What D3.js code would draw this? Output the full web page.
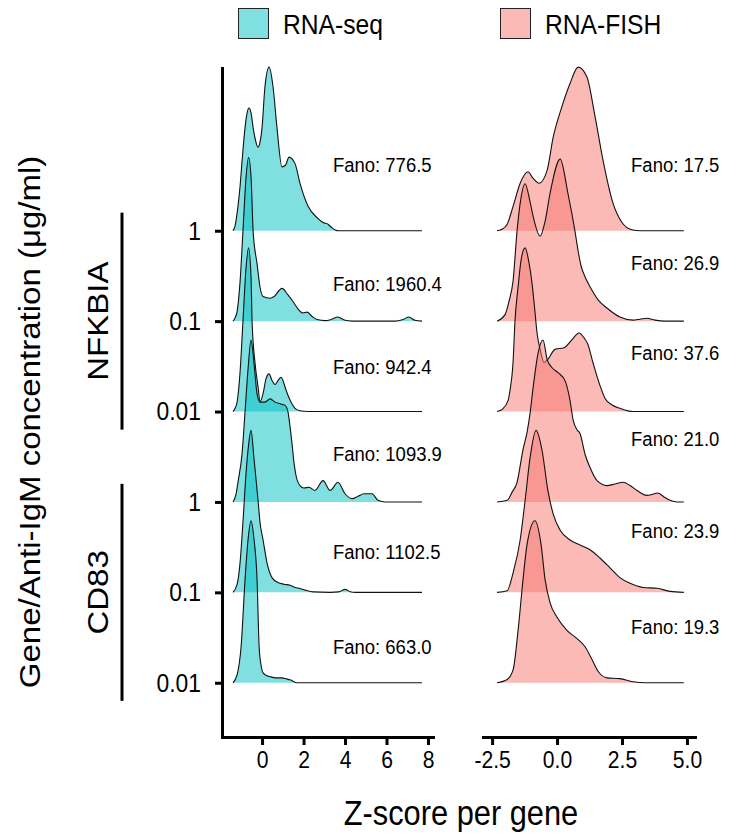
<!DOCTYPE html>
<html><head><meta charset="utf-8">
<script src="https://cdn.jsdelivr.net/npm/d3@7"></script>
<style>body{margin:0;background:#fff;} svg{display:block;font-family:"Liberation Sans",Arial,sans-serif;}</style>
</head><body><svg id="chart" width="736" height="837"></svg>
<script>
// ---------------- DATA ----------------
const rowLabels = ["1","0.1","0.01","1","0.1","0.01"];   // top -> bottom
const rowIndex  = [5,4,3,2,1,0];
const genes = ["NFKBIA","CD83"];
const geneRows = [[5,4,3],[2,1,0]];
const seqTicks = [0,2,4,6,8];
const fishTicks = [-2.5,0,2.5,5];
const seqFano  = ["776.5","1960.4","942.4","1093.9","1102.5","663.0"];
const fishFano = ["17.5","26.9","37.6","21.0","23.9","19.3"];
const seqFanoRow  = [5.73,4.42,3.50,2.54,1.45,0.40];
const fishFanoRow = [5.73,4.65,3.65,2.70,1.69,0.62];

// density curves, [z-score, scaled density]
const seq_NFKBIA_1 = [[-1.40,0],[-1.30,0.03],[-1.16,0.15],[-1.06,0.27],[-0.96,0.43],[-0.82,0.63],[-0.72,0.72],[-0.63,0.75],[-0.53,0.72],[-0.43,0.63],[-0.29,0.54],[-0.19,0.51],[-0.10,0.54],[0.00,0.63],[0.14,0.88],[0.34,1.00],[0.53,0.88],[0.72,0.63],[0.96,0.39],[1.13,0.40],[1.30,0.45],[1.59,0.41],[1.83,0.29],[2.22,0.15],[2.65,0.08],[2.94,0.05],[3.18,0.04],[3.35,0.02],[3.52,0.005],[3.70,0],[7.71,0]];
const seq_NFKBIA_01 = [[-1.40,0],[-1.30,0.02],[-1.20,0.06],[-1.06,0.24],[-0.92,0.55],[-0.77,0.88],[-0.65,1.00],[-0.53,0.88],[-0.43,0.55],[-0.24,0.35],[-0.10,0.21],[0.05,0.15],[0.39,0.14],[0.58,0.15],[0.96,0.20],[1.25,0.16],[1.49,0.12],[1.83,0.06],[1.97,0.05],[2.17,0.055],[2.40,0.03],[2.65,0.01],[3.04,0.003],[3.33,0.01],[3.66,0.025],[4.00,0.005],[4.34,0],[6.41,0],[6.80,0.01],[7.08,0.025],[7.37,0.005],[7.71,0]];
const seq_NFKBIA_001 = [[-1.40,0],[-1.30,0.02],[-1.20,0.06],[-1.06,0.24],[-0.92,0.55],[-0.77,0.88],[-0.65,1.00],[-0.53,0.82],[-0.48,0.55],[-0.34,0.30],[-0.19,0.15],[-0.10,0.06],[0.05,0.11],[0.19,0.20],[0.34,0.23],[0.48,0.19],[0.63,0.165],[0.77,0.19],[0.92,0.21],[1.06,0.17],[1.16,0.13],[1.35,0.07],[1.59,0.02],[1.83,0.005],[2.22,0],[7.71,0]];
const seq_CD83_1 = [[-1.40,0],[-1.25,0.05],[-1.16,0.12],[-0.96,0.30],[-0.82,0.55],[-0.67,0.82],[-0.53,0.99],[-0.39,0.85],[-0.24,0.66],[-0.10,0.61],[0.14,0.61],[0.39,0.63],[0.63,0.61],[0.87,0.60],[1.11,0.59],[1.25,0.55],[1.35,0.46],[1.45,0.35],[1.54,0.24],[1.64,0.16],[1.83,0.10],[2.02,0.085],[2.27,0.09],[2.55,0.07],[2.94,0.13],[3.28,0.07],[3.66,0.12],[4.00,0.05],[4.34,0.02],[4.63,0.035],[4.92,0.05],[5.30,0.05],[5.59,0.01],[5.93,0],[7.71,0]];
const seq_CD83_01 = [[-1.40,0],[-1.20,0.05],[-1.06,0.18],[-0.92,0.43],[-0.77,0.73],[-0.65,0.90],[-0.53,0.99],[-0.39,0.82],[-0.19,0.56],[-0.10,0.43],[0.05,0.32],[0.24,0.18],[0.48,0.09],[0.77,0.06],[1.06,0.05],[1.35,0.043],[1.59,0.03],[1.83,0.024],[2.12,0.012],[2.46,0.003],[3.28,0],[3.70,0.003],[4.00,0.018],[4.25,0.004],[4.50,0],[7.71,0]];
const seq_CD83_001 = [[-1.40,0],[-1.20,0.05],[-1.01,0.22],[-0.82,0.63],[-0.67,0.88],[-0.53,0.99],[-0.39,0.88],[-0.24,0.63],[-0.14,0.22],[-0.05,0.11],[0.05,0.06],[0.24,0.043],[0.39,0.037],[0.67,0.03],[0.96,0.03],[1.16,0.024],[1.35,0.018],[1.69,0],[7.71,0]];

const fish_NFKBIA_1 = [[-2.31,0],[-2.10,0.01],[-1.92,0.04],[-1.69,0.15],[-1.42,0.29],[-1.12,0.36],[-0.92,0.32],[-0.69,0.29],[-0.38,0.37],[-0.15,0.57],[0.19,0.76],[0.50,0.90],[0.81,1.00],[1.15,0.94],[1.46,0.70],[1.77,0.43],[2.15,0.17],[2.50,0.05],[2.88,0.006],[3.19,0],[4.88,0]];
const fish_NFKBIA_01 = [[-2.31,0],[-2.00,0.04],[-1.85,0.12],[-1.69,0.25],[-1.54,0.55],[-1.42,0.72],[-1.23,0.84],[-1.04,0.73],[-0.92,0.64],[-0.65,0.52],[-0.46,0.61],[-0.27,0.78],[0.12,0.99],[0.42,0.78],[0.69,0.55],[0.81,0.43],[0.92,0.34],[1.08,0.27],[1.27,0.21],[1.58,0.13],[1.92,0.08],[2.42,0.025],[2.92,0.006],[3.19,0.012],[3.46,0.018],[3.77,0.006],[4.15,0],[4.88,0]];
const fish_NFKBIA_001 = [[-2.31,0],[-2.10,0.015],[-1.88,0.07],[-1.81,0.13],[-1.69,0.31],[-1.62,0.55],[-1.50,0.76],[-1.38,0.93],[-1.23,1.00],[-1.08,0.91],[-0.96,0.78],[-0.85,0.61],[-0.77,0.48],[-0.65,0.38],[-0.50,0.30],[-0.35,0.32],[-0.08,0.38],[0.27,0.39],[0.58,0.44],[0.85,0.48],[1.04,0.45],[1.19,0.41],[1.38,0.30],[1.65,0.16],[1.85,0.08],[2.12,0.04],[2.42,0.02],[2.92,0],[4.88,0]];
const fish_CD83_1 = [[-2.31,0],[-1.92,0.01],[-1.73,0.06],[-1.54,0.12],[-1.31,0.32],[-1.15,0.43],[-1.04,0.54],[-0.92,0.70],[-0.73,0.91],[-0.54,0.99],[-0.38,0.87],[-0.19,0.82],[0.04,0.79],[0.31,0.74],[0.50,0.62],[0.62,0.50],[0.77,0.44],[0.88,0.42],[1.08,0.29],[1.27,0.21],[1.54,0.13],[1.92,0.10],[2.23,0.11],[2.54,0.12],[2.81,0.10],[3.08,0.07],[3.46,0.04],[3.65,0.045],[3.88,0.055],[4.12,0.03],[4.35,0.01],[4.62,0],[4.88,0]];
const fish_CD83_01 = [[-2.31,0],[-1.92,0.01],[-1.69,0.12],[-1.42,0.32],[-1.23,0.56],[-1.04,0.82],[-0.81,0.99],[-0.58,0.87],[-0.35,0.62],[-0.15,0.48],[0.12,0.38],[0.50,0.32],[0.88,0.29],[1.27,0.26],[1.65,0.21],[2.04,0.15],[2.42,0.09],[2.81,0.055],[3.31,0.03],[3.85,0.025],[4.35,0.006],[4.88,0]];
const fish_CD83_001 = [[-2.31,0],[-1.92,0.02],[-1.69,0.08],[-1.50,0.32],[-1.31,0.63],[-1.15,0.85],[-0.85,0.99],[-0.62,0.85],[-0.46,0.63],[-0.27,0.49],[0.00,0.40],[0.38,0.32],[0.77,0.27],[1.08,0.22],[1.35,0.14],[1.58,0.07],[1.92,0.03],[2.42,0.025],[2.92,0.006],[3.38,0],[4.88,0]];

const seqRidges  = [seq_NFKBIA_1, seq_NFKBIA_01, seq_NFKBIA_001, seq_CD83_1, seq_CD83_01, seq_CD83_001];
const fishRidges = [fish_NFKBIA_1, fish_NFKBIA_01, fish_NFKBIA_001, fish_CD83_1, fish_CD83_01, fish_CD83_001];

// ---------------- LAYOUT ----------------
const SQ = 0.88; // horizontal squeeze of glyphs in the reference
const FILL_SEQ = "rgba(0,191,196,0.5)";
const FILL_FISH = "rgba(248,118,109,0.5)";
const ridgeScale = 1.81;
const svg = d3.select("#chart");

const y = d3.scaleLinear().domain([-0.6, 6.8]).range([737, 68]);
const xSeq = d3.scaleLinear().domain([-1.93, 8.24]).range([222, 433]);
const xFish = d3.scaleLinear().domain([-2.85, 5.31]).range([483, 695]);

function text(x, yy, str, size, anchor, rot) {
  return svg.append("text")
    .attr("transform", `translate(${x},${yy}) scale(${SQ},1)` + (rot ? " rotate(-90)" : ""))
    .attr("text-anchor", anchor).attr("dy", "0.36em")
    .attr("font-size", size).attr("fill", "#000").text(str);
}

function drawPanel(xs, ridges, fill) {
  const g = svg.append("g");
  ridges.forEach((pts, i) => {
    const r = rowIndex[i];
    const area = d3.area().curve(d3.curveMonotoneX)
      .x(d => xs(d[0])).y0(y(r)).y1(d => y(r + d[1] * ridgeScale));
    const line = d3.line().curve(d3.curveMonotoneX)
      .x(d => xs(d[0])).y(d => y(r + d[1] * ridgeScale));
    g.append("path").attr("d", area(pts)).attr("fill", fill);
    g.append("path").attr("d", line(pts)).attr("fill", "none")
      .attr("stroke", "#111").attr("stroke-width", 1.1);
  });
}

drawPanel(xSeq, seqRidges, FILL_SEQ);
drawPanel(xFish, fishRidges, FILL_FISH);

// Fano labels
seqFano.forEach((f, i) => text(xSeq(3.42), y(seqFanoRow[i]), "Fano: " + f, 21, "start"));
fishFano.forEach((f, i) => text(xFish(2.85), y(fishFanoRow[i]), "Fano: " + f, 21, "start"));

// axes
function styleAxis(g, size) {
  g.select(".domain").attr("stroke", "#000").attr("stroke-width", 3).attr("stroke-linecap", "square");
  g.selectAll(".tick line").attr("stroke", "#000").attr("stroke-width", 3);
  g.selectAll(".tick text").attr("fill", "#000").attr("font-size", size)
    .attr("font-family", '"Liberation Sans",Arial,sans-serif')
    .each(function() {
      const t = d3.select(this); const x0 = +t.attr("x") || 0;
      t.attr("x", x0 / SQ).attr("transform", `scale(${SQ},1)`);
    });
}
const gxs = svg.append("g").attr("transform", `translate(0,${y(-0.6)})`)
  .call(d3.axisBottom(xSeq).tickValues(seqTicks).tickSize(8).tickSizeOuter(0).tickPadding(6).tickFormat(d => d));
styleAxis(gxs, 24);
const gxf = svg.append("g").attr("transform", `translate(0,${y(-0.6)})`)
  .call(d3.axisBottom(xFish).tickValues(fishTicks).tickSize(8).tickSizeOuter(0).tickPadding(6).tickFormat(d => d.toFixed(1)));
styleAxis(gxf, 24);
const gy = svg.append("g").attr("transform", `translate(${xSeq(-1.93)},0)`)
  .call(d3.axisLeft(y).tickValues(rowIndex).tickSize(7).tickSizeOuter(0).tickPadding(14)
    .tickFormat(r => rowLabels[rowIndex.indexOf(r)]));
styleAxis(gy, 26);

// gene group bars
genes.forEach((gname, gi) => {
  const rows = geneRows[gi];
  const top = d3.max(rows) + 0.2, bot = d3.min(rows) - 0.2;
  svg.append("line").attr("x1", 122).attr("x2", 122).attr("y1", y(top)).attr("y2", y(bot))
    .attr("stroke", "#000").attr("stroke-width", 3);
  text(98, y(d3.mean(rows)), gname, 33, "middle", true);
});

// axis titles
text(30, 422, "Gene/Anti-IgM concentration (μg/ml)", 33, "middle", true);
text(461, 812, "Z-score per gene", 35, "middle", false);

// legend
const legend = [["RNA-seq", FILL_SEQ, 238], ["RNA-FISH", FILL_FISH, 500]];
legend.forEach(([lab, fill, lx]) => {
  svg.append("rect").attr("x", lx + 0.5).attr("y", 8.5).attr("width", 30).attr("height", 30)
    .attr("fill", fill).attr("stroke", "#222").attr("stroke-width", 1);
  text(lx + 45, 24, lab, 28, "start");
});
</script></body></html>
